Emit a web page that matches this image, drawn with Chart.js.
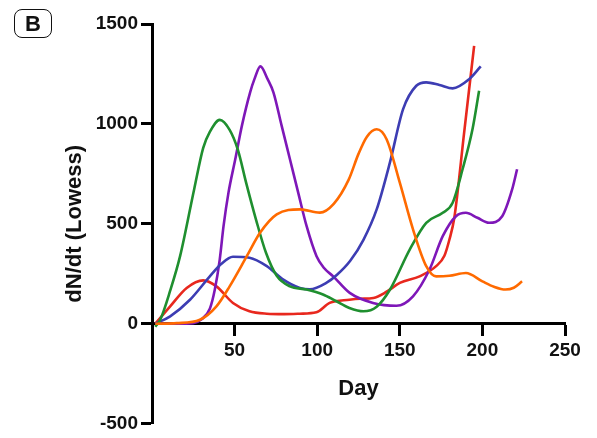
<!DOCTYPE html>
<html>
<head>
<meta charset="utf-8">
<script src="https://cdn.jsdelivr.net/npm/chart.js@4.4.0/dist/chart.umd.min.js"></script>
<style>
  html, body { margin: 0; padding: 0; background: #fff; }
  .wrap { position: relative; width: 597px; height: 438px; }
  .panel-tag {
    position: absolute; left: 14px; top: 9px; width: 38px; height: 29px;
    border: 1.5px solid #111; border-radius: 8px; box-sizing: border-box;
    font: bold 22px "Liberation Sans", Arial, sans-serif; color: #111;
    display: flex; align-items: center; justify-content: center;
  }
</style>
</head>
<body>
<div class="wrap">
  <canvas id="lowessChart" width="597" height="438"></canvas>
  <div class="panel-tag">B</div>
</div>
<script>
// values (day -> dN/dt)
const greenDays = [2, 5, 11, 17, 25.5, 31, 35, 41, 47, 52, 57, 63, 69, 75.5, 83.5, 93.5, 103.5, 111, 119.5, 128, 136, 144, 156, 166, 176, 182, 188, 194, 198];
const greenVals = [-15, 20, 165, 338, 672, 880, 960, 1020, 970, 870, 705, 520, 355, 240, 187, 171, 146, 115, 79, 62, 85, 170, 371, 505, 555, 605, 773, 973, 1166];

const blueDays = [2, 11, 23, 35, 42, 49, 59, 69.5, 79.5, 89.5, 95.5, 105.5, 112, 120, 128, 136, 144, 152, 160, 166, 174, 182, 192, 199];
const blueVals = [0, 37, 120, 237, 300, 335, 330, 288, 221, 179, 172, 204, 245, 315, 420, 572, 806, 1074, 1191, 1208, 1195, 1178, 1224, 1288];

const purpleDays = [2, 15, 25, 30, 35, 38, 41, 43.3, 46.3, 50.4, 54.4, 59.4, 62, 65.6, 70, 73.5, 78.5, 83.5, 88.5, 93.6, 99.6, 104, 109.7, 119.7, 133.8, 148, 158, 168, 176, 184, 190, 197, 204, 212, 218, 221];
const purpleVals = [0, 0, 3, 22, 75, 170, 321, 488, 656, 823, 990, 1158, 1224, 1288, 1224, 1158, 990, 823, 656, 488, 338, 280, 237, 154, 104, 90, 137, 271, 438, 538, 555, 530, 505, 538, 672, 773];

const orangeDays = [2, 15, 29, 39, 47, 57.4, 65.4, 75.5, 89.6, 101.6, 110, 119, 125, 130, 136, 142, 150, 158, 166, 172, 180, 190, 200, 207, 214, 219, 224];
const orangeVals = [0, 3, 20, 87, 187, 338, 455, 547, 572, 556, 600, 720, 850, 935, 973, 923, 706, 472, 288, 237, 240, 254, 212, 185, 171, 180, 212];

const redDays = [2, 11, 21, 31, 39, 49, 59, 69.5, 80, 89.5, 99.5, 107.5, 119.5, 126, 134, 142, 150, 162, 172, 177, 180, 183, 189, 195];
const redVals = [0, 87, 179, 217, 187, 104, 62, 50, 48, 50, 57, 104, 120, 125, 129, 160, 204, 237, 288, 340, 420, 530, 960, 1391];

const xTicks = [50, 100, 150, 200, 250];
const yTicks = [-500, 0, 500, 1000, 1500];

function toPoints(days, vals) {
  return days.map(function (d, i) { return { x: d, y: vals[i] }; });
}

function series(label, days, vals, color) {
  return {
    label: label,
    data: toPoints(days, vals),
    borderColor: color,
    borderWidth: 2.6,
    pointRadius: 0,
    fill: false,
    cubicInterpolationMode: "monotone",
  };
}

const font = "'Liberation Sans', Arial, sans-serif";

new Chart(document.getElementById("lowessChart"), {
  type: "line",
  data: {
    datasets: [
      series("Orange", orangeDays, orangeVals, "#ff6a00"),
      series("Green", greenDays, greenVals, "#1f8f2f"),
      series("Blue", blueDays, blueVals, "#3d3db3"),
      series("Purple", purpleDays, purpleVals, "#7e17b8"),
      series("Red", redDays, redVals, "#e8281e"),
    ],
  },
  options: {
    responsive: false,
    animation: false,
    layout: { padding: { left: 58, right: 32, top: 24, bottom: 4 } },
    plugins: { legend: { display: false }, tooltip: { enabled: false } },
    scales: {
      x: {
        type: "linear",
        position: { y: 0 },
        min: 0,
        max: 250,
        afterBuildTicks: function (scale) {
          scale.ticks = xTicks.map(function (v) { return { value: v }; });
        },
        border: { display: true, color: "#000", width: 3 },
        grid: { drawOnChartArea: false, drawTicks: true, tickLength: 11, tickWidth: 3, tickColor: "#000" },
        ticks: {
          color: "#111",
          padding: 5,
          maxRotation: 0,
          callback: function (v) { return String(v); },
          font: { family: font, size: 19, weight: "bold" },
        },
        title: {
          display: true,
          text: "Day",
          color: "#111",
          padding: { top: 8, bottom: 0 },
          font: { family: font, size: 22, weight: "bold" },
        },
      },
      y: {
        min: -500,
        max: 1500,
        afterBuildTicks: function (scale) {
          scale.ticks = yTicks.map(function (v) { return { value: v }; });
        },
        afterFit: function (scale) { scale.width = 94; },
        border: { display: true, color: "#000", width: 3 },
        grid: { drawOnChartArea: false, drawTicks: true, tickLength: 11, tickWidth: 3, tickColor: "#000" },
        ticks: {
          color: "#111",
          padding: 3,
          callback: function (v) { return String(v); },
          font: { family: font, size: 19, weight: "bold" },
        },
        title: {
          display: true,
          text: "dN/dt (Lowess)",
          color: "#111",
          padding: { top: 4, bottom: 4 },
          font: { family: font, size: 22, weight: "bold" },
        },
      },
    },
  },
});
</script>
</body>
</html>
